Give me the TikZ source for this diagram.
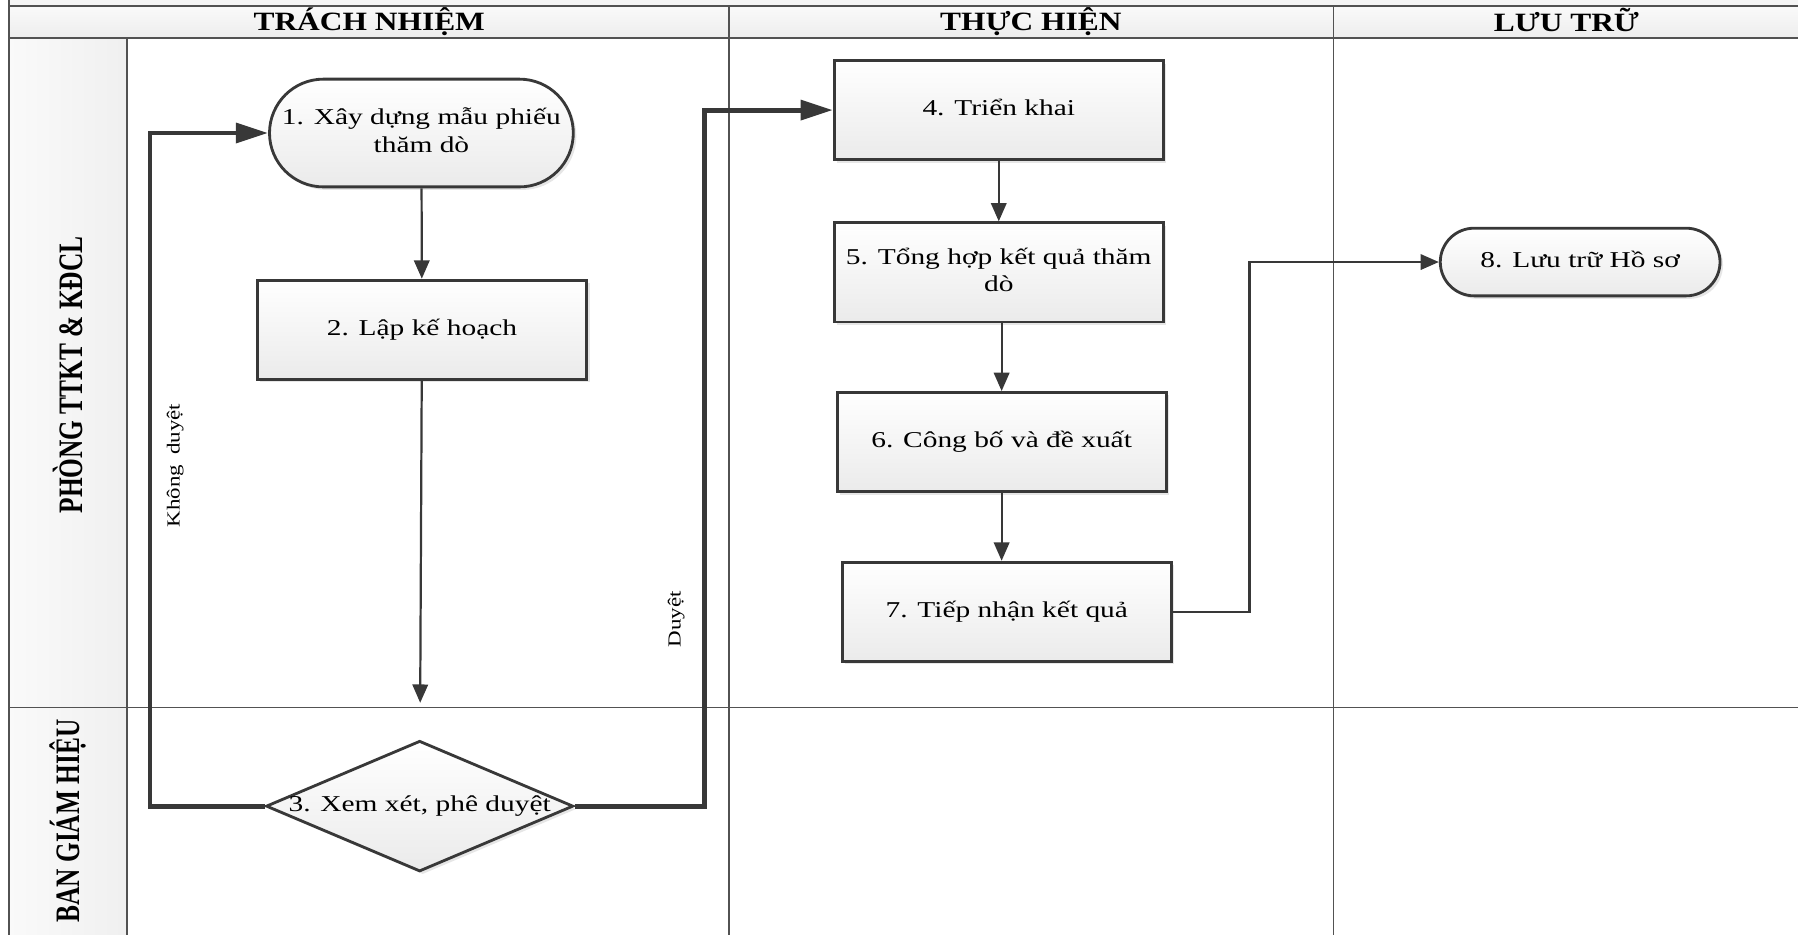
\documentclass[tikz,border=0pt]{standalone}
\usepackage{fontspec}
\setmainfont{Liberation Serif}
\usepackage{graphicx}
\usetikzlibrary{arrows.meta,shapes.geometric,shadows,calc}

\newcommand{\vsq}[2]{\scalebox{1}[#1]{\begin{tabular}{@{}c@{}}#2\end{tabular}}}
\newcommand{\hsq}[2]{\scalebox{#1}[1]{#2}}

\begin{document}
\begin{tikzpicture}[x=0.02cm,y=-0.02cm,
  grid/.style={draw=black!68, line width=0.85pt},
  boxfill/.style={top color=white, bottom color=black!8, draw=black!78, line width=1.4pt,
    drop shadow={opacity=0.2, shadow xshift=1.5pt, shadow yshift=-1.5pt}},
  procbox/.style={boxfill, rectangle, minimum width=5.74cm, minimum height=1.73cm, inner sep=0pt, nodefont},
  termbox/.style={boxfill, rectangle, inner sep=0pt, nodefont},
  decision/.style={boxfill, diamond, inner sep=0pt, minimum width=5.36cm, minimum height=2.28cm},
  nodefont/.style={font=\fontsize{14.6}{17.6}\selectfont},
  headfont/.style={font=\fontsize{15.6}{18}\selectfont\bfseries},
  lanefont/.style={font=\fontsize{17}{20}\selectfont\bfseries, rotate=90},
  edgelabel/.style={font=\fontsize{11.4}{13}\selectfont, rotate=90},
  thinarrow/.style={draw=black!78, line width=1.1pt, -{Triangle[length=0.32cm,width=0.27cm]}},
  thickarrow/.style={draw=black!78, line width=2.4pt, -{Triangle[length=0.56cm,width=0.34cm]}}
]
\useasboundingbox (0,0) rectangle (1568,815);

% ---- table ----
\fill[gray!8] (8,0) rectangle (1568,5);
\shade[top color=gray!4, bottom color=gray!14] (8,5) rectangle (1568,33);
\shade[left color=gray!4, right color=gray!12] (8,33) rectangle (111,815);
\draw[grid] (8,0) -- (8,815);
\draw[grid] (8,5) -- (1568,5);
\draw[grid] (8,33) -- (1568,33);
\draw[grid] (111,33) -- (111,815);
\draw[grid] (636,5) -- (636,815);
\draw[grid] (1163,5) -- (1163,815);
\draw[grid] (8,617) -- (1568,617);

\node[headfont] (h1) at (322,21) {\vsq{0.84}{TRÁCH NHIỆM}};
\node[headfont] (h2) at (899,21) {\vsq{0.84}{THỰC HIỆN}};
\node[headfont] (h3) at (1366,21) {\vsq{0.84}{LƯU TRỮ}};

\node[lanefont] (l1) at (59,327) {\hsq{0.74}{PHÒNG TTKT \& KĐCL}};
\node[lanefont] (l2) at (59,716) {\hsq{0.74}{BAN GIÁM HIỆU}};

% ---- nodes ----
\node[termbox, minimum width=5.3cm, minimum height=1.88cm, rounded corners=0.94cm] (n1) at (367.5,116)
  {\raisebox{-1pt}{\vsq{0.77}{1. Xây dựng mẫu phiếu\\thăm dò}}};
\node[procbox] (n2) at (368,287.5) {\raisebox{-1pt}{\vsq{0.77}{2. Lập kế hoạch}}};
\node[decision, label={[nodefont]center:\raisebox{-1pt}{\vsq{0.77}{3. Xem xét, phê duyệt}}}] (n3) at (366,703) {};
\node[procbox] (n4) at (871,96) {\raisebox{-1pt}{\vsq{0.77}{4. Triển khai}}};
\node[procbox] (n5) at (871,237.5) {\raisebox{-1pt}{\vsq{0.77}{5. Tổng hợp kết quả thăm\\dò}}};
\node[procbox] (n6) at (873.5,385.5) {\raisebox{-1pt}{\vsq{0.77}{6. Công bố và đề xuất}}};
\node[procbox] (n7) at (878,533.5) {\raisebox{-1pt}{\vsq{0.77}{7. Tiếp nhận kết quả}}};
\node[termbox, minimum width=4.88cm, minimum height=1.18cm, rounded corners=0.59cm] (n8) at (1378,228.5)
  {\raisebox{-1pt}{\vsq{0.77}{8. Lưu trữ Hồ sơ}}};

% ---- connectors ----
\draw[thinarrow] (n1) -- (n2);
\draw[thinarrow, shorten >=0.64cm] (n2) -- (n3);
\draw[thickarrow] (n3.west) -- ++(-100,0) |- (n1.west);
\draw[thickarrow] (n3.east) -- ++(113,0) |- (n4.west);
\draw[thinarrow] (n4) -- (n5);
\draw[thinarrow] (n6.north |- n5.south) -- (n6.north);
\draw[thinarrow] (n6.south) -- (n6.south |- n7.north);
\draw[thinarrow] (n7.east) -- ++(67,0) |- (n8.west);

\node[edgelabel] (lk) at (153,406) {\vsq{0.8}{Không\hspace{0.45em}duyệt}};
\node[edgelabel] (ld) at (590,540) {\vsq{0.8}{Duyệt}};
\end{tikzpicture}
\end{document}
